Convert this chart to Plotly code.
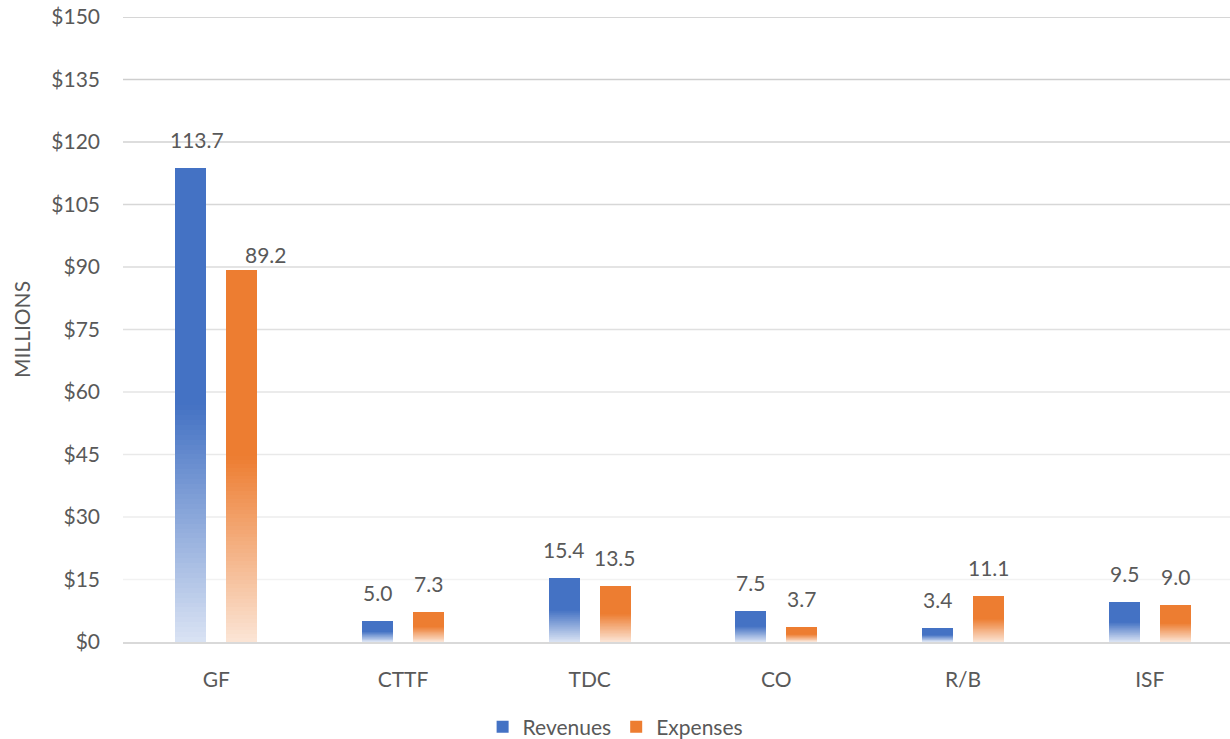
import plotly.graph_objects as go

# ---- data (millions of dollars) ----
categories = ["GF", "CTTF", "TDC", "CO", "R/B", "ISF"]
revenues = [113.7, 5.0, 15.4, 7.5, 3.4, 9.5]
expenses = [89.2, 7.3, 13.5, 3.7, 11.1, 9.0]
y_ticks = [0, 15, 30, 45, 60, 75, 90, 105, 120, 135, 150]
y_tick_labels = ["$0", "$15", "$30", "$45", "$60", "$75", "$90",
                 "$105", "$120", "$135", "$150"]

# ---- styling ----
FONT = "Lato"
FS = 21
TEXT = "#595959"
BAR_W = 0.166
series = [
    # name, values, solid colour, pale colour, left offset within category
    ("Revenues", revenues, (0x44, 0x72, 0xC4), (0xDA, 0xE3, 0xF3), -0.220),
    ("Expenses", expenses, (0xED, 0x7D, 0x31), (0xFB, 0xE5, 0xD6), 0.054),
]
N_STEPS = 48          # slices used to build the vertical fade inside each bar
SOLID_PART = 0.5      # upper share of each bar that stays fully coloured


def mix(c1, c2, t):
    r, g, b = (round(a + (b_ - a) * t) for a, b_ in zip(c1, c2))
    return f"rgb({r},{g},{b})"


fig = go.Figure()

for name, vals, solid, pale, off in series:
    # full-height bar in the solid colour
    fig.add_trace(go.Bar(
        x=categories, y=vals, name=name, offset=off, width=BAR_W,
        marker=dict(color=mix(solid, solid, 0), line=dict(width=0)),
        hovertemplate="%{x}: %{y}<extra>" + name + "</extra>",
        legendgroup=name, showlegend=True,
    ))
    # progressively shorter, paler bars drawn on top give the fade to the base
    lower = 1 - SOLID_PART
    for k in range(N_STEPS):
        top = lower * (N_STEPS - k) / N_STEPS
        t = (N_STEPS - k - 0.5) / N_STEPS
        fig.add_trace(go.Bar(
            x=categories, y=[v * top for v in vals], offset=off, width=BAR_W,
            marker=dict(color=mix(pale, solid, t), line=dict(width=0)),
            hoverinfo="skip", legendgroup=name, showlegend=False,
        ))

# value labels above each bar
label_nudge = {("Revenues", "GF"): (6, 0), ("Expenses", "GF"): (24, -13)}
for name, vals, solid, pale, off in series:
    for i, (cat, v) in enumerate(zip(categories, vals)):
        dx, dy = label_nudge.get((name, cat), (0, 0))
        fig.add_annotation(
            x=i + off + BAR_W / 2, y=v, xref="x", yref="y",
            text=f"{v:.1f}", showarrow=False, yanchor="bottom",
            xshift=dx, yshift=14 + dy,
            font=dict(family=FONT, size=FS, color=TEXT),
        )

# horizontal gridlines, lighter towards the bottom of the chart
light, dark = (0xF2, 0xF2, 0xF2), (0xC9, 0xC9, 0xC9)
for v in y_ticks[1:]:
    t = (v - y_ticks[1]) / (y_ticks[-1] - y_ticks[1])
    fig.add_shape(
        type="line", xref="paper", yref="y", x0=0, x1=1, y0=v, y1=v,
        line=dict(color=mix(light, dark, t), width=1.5), layer="below",
    )

fig.update_layout(
    width=1230, height=739,
    margin=dict(l=123, r=0, t=17, b=97, autoexpand=False),
    paper_bgcolor="white", plot_bgcolor="white",
    barmode="overlay", bargap=0, bargroupgap=0,   # zero gaps -> pixel-snapped bar edges
    font=dict(family=FONT, size=FS, color=TEXT),
    legend=dict(
        orientation="h", x=0.445, xanchor="center",
        yref="container", y=0.016, yanchor="middle",
        font=dict(family=FONT, size=FS, color=TEXT),
        traceorder="normal",
    ),
    xaxis=dict(
        type="category", range=[-0.5, 5.43], showgrid=False, automargin=False,
        showline=True, linecolor="#D9D9D9", linewidth=2,
        ticks="", ticklabelstandoff=18,
        tickfont=dict(family=FONT, size=FS, color=TEXT),
    ),
    yaxis=dict(
        range=[0, 150], tickmode="array", tickvals=y_ticks, ticktext=y_tick_labels,
        showgrid=False, zeroline=False, showline=False, automargin=False,
        ticks="", ticklabelstandoff=22,
        tickfont=dict(family=FONT, size=FS, color=TEXT),
        title=dict(text="MILLIONS", standoff=14,
                   font=dict(family=FONT, size=FS, color=TEXT)),
    ),
)

fig.write_html("out.html")
